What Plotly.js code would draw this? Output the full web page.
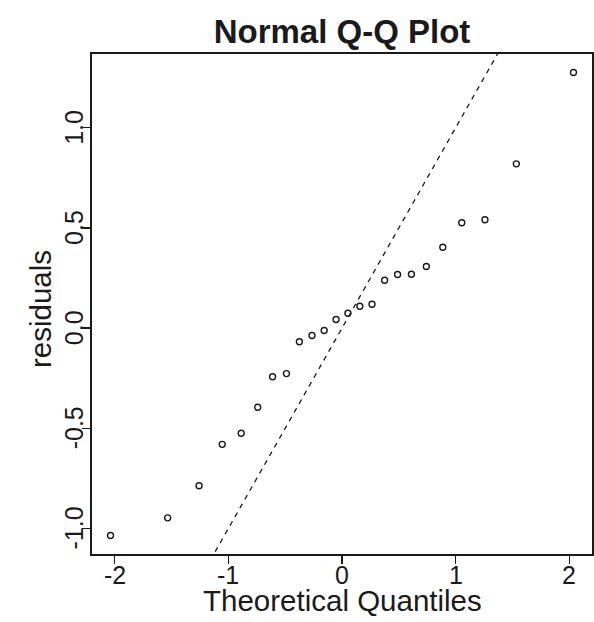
<!DOCTYPE html>
<html>
<head>
<meta charset="utf-8">
<script src="https://cdn.plot.ly/plotly-3.0.1.min.js"></script>
<style>
  html, body { margin: 0; padding: 0; background: #ffffff; }
  #chart { width: 594px; height: 622px; }
</style>
</head>
<body>
<div id="chart"></div>
<script>
// Normal quantiles for each ordered residual (24 observations)
const theoreticalQuantiles = [
  -2.037, -1.534, -1.258, -1.054, -0.887, -0.742, -0.611, -0.489,
  -0.375, -0.264, -0.157, -0.052, 0.052, 0.157, 0.264, 0.375,
  0.489, 0.611, 0.742, 0.887, 1.054, 1.258, 1.534, 2.037
];
// Ordered sample residuals
const residuals = [
  -1.035, -0.947, -0.787, -0.580, -0.525, -0.395, -0.243, -0.227,
  -0.068, -0.037, -0.012, 0.043, 0.074, 0.109, 0.119, 0.239,
  0.268, 0.269, 0.308, 0.404, 0.526, 0.541, 0.820, 1.276
];
// Reference line y = a + b x
const refIntercept = 0;
const refSlope = 1;

const xTickVals = [-2, -1, 0, 1, 2];
const xTickText = ["-2", "-1", "0", "1", "2"];
const yTickVals = [-1, -0.5, 0, 0.5, 1];
const yTickText = ["-1.0", "-0.5", "0.0", "0.5", "1.0"];

const mainTitle = 'Normal Q-Q Plot';
const xTitle = 'Theoretical Quantiles';
const yTitle = 'residuals';

// 4% padding on each side of the data range
function padded(arr) {
  const lo = Math.min(...arr), hi = Math.max(...arr);
  const pad = (hi - lo) * 0.04;
  return [lo - pad, hi + pad];
}
const xRange = padded(theoreticalQuantiles);
const yRange = padded(residuals);

const ink = '#1a1a1a';
const fontFamily = '"Liberation Sans", Arial, Helvetica, sans-serif';
const tickFont = { size: 25, family: fontFamily, color: ink };
const labFont = { size: 29.5, family: fontFamily, color: ink };

const points = {
  type: 'scatter',
  mode: 'markers',
  x: theoreticalQuantiles,
  y: residuals,
  marker: { symbol: 'circle-open', size: 6, color: ink, line: { width: 1.4, color: ink } },
  hoverinfo: 'x+y',
  showlegend: false
};

const lineX = [xRange[0] - 1, xRange[1] + 1];
const refLine = {
  type: 'scatter',
  mode: 'lines',
  x: lineX,
  y: lineX.map(v => refIntercept + refSlope * v),
  line: { color: ink, width: 1.3, dash: '5px,5px' },
  hoverinfo: 'skip',
  showlegend: false
};

const axisCommon = {
  tickmode: 'array',
  ticks: 'outside', ticklen: 8, tickwidth: 1.3, tickcolor: ink,
  showticklabels: false,
  showline: true, mirror: true, linecolor: ink, linewidth: 1.6,
  showgrid: false, zeroline: false
};

// Tick labels set close to the frame, as in base R graphics
const xTickLabels = xTickVals.map((v, i) => ({
  text: xTickText[i], showarrow: false,
  xref: 'x', yref: 'paper', x: v, y: 0,
  xanchor: 'center', yanchor: 'middle', yshift: -21,
  font: tickFont
}));
const yTickLabels = yTickVals.map((v, i) => ({
  text: yTickText[i], showarrow: false, textangle: -90,
  xref: 'paper', yref: 'y', x: 0, y: v,
  xanchor: 'center', yanchor: 'middle', xshift: -18,
  font: tickFont
}));

const layout = {
  width: 594,
  height: 622,
  margin: { l: 92, r: 2, t: 54, b: 68, pad: 0 },
  paper_bgcolor: '#ffffff',
  plot_bgcolor: '#ffffff',
  font: { family: fontFamily, color: ink, size: 25 },
  title: {
    text: '<b>' + mainTitle + '</b>',
    font: { family: fontFamily, size: 33, color: ink },
    x: 0.5, xref: 'paper', xanchor: 'center',
    y: 1 - 31 / 622, yref: 'container', yanchor: 'middle'
  },
  xaxis: Object.assign({}, axisCommon, { range: xRange, tickvals: xTickVals }),
  yaxis: Object.assign({}, axisCommon, { range: yRange, tickvals: yTickVals }),
  annotations: xTickLabels.concat(yTickLabels, [
    {
      text: xTitle, showarrow: false,
      xref: 'paper', yref: 'paper', x: 0.5, y: -0.092,
      xanchor: 'center', yanchor: 'middle',
      font: labFont
    },
    {
      text: yTitle, showarrow: false, textangle: -90,
      xref: 'paper', yref: 'paper', x: -0.104, y: 0.49,
      xanchor: 'center', yanchor: 'middle',
      font: labFont
    }
  ])
};

Plotly.newPlot('chart', [refLine, points], layout, { staticPlot: true, displayModeBar: false });
</script>
</body>
</html>
